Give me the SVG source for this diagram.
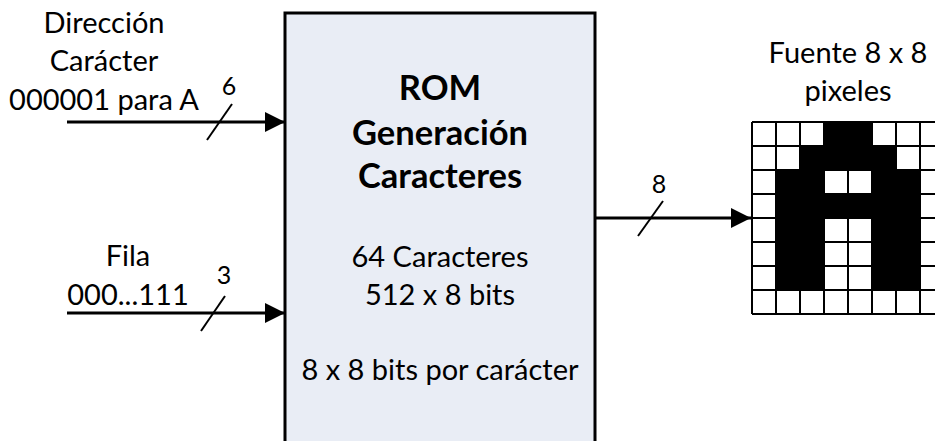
<svg xmlns="http://www.w3.org/2000/svg" width="935" height="441" viewBox="0 0 935 441">
  <defs>
    <marker id="arrow" markerUnits="userSpaceOnUse" markerWidth="20" markerHeight="20" refX="20" refY="10" orient="auto">
      <path d="M0,0 L20,10 L0,20 Z" fill="#000"/>
    </marker>
    <style>
      .t { font-family: Lato, "Liberation Sans", sans-serif; font-size: 29px; fill: #000; text-anchor: middle; }
      .b { font-weight: bold; font-size: 34.5px; }
      .s { font-family: Lato, "Liberation Sans", sans-serif; font-size: 25px; fill: #000; text-anchor: middle; }
      .bus { stroke: #000; stroke-width: 3; fill: none; }
      .slash { stroke: #000; stroke-width: 2; fill: none; }
    </style>
  </defs>
  <rect width="935" height="441" fill="#fff"/>

  <g id="rom">
    <rect x="285" y="13" width="310" height="440" fill="#E9EDF5" stroke="#000" stroke-width="3"/>
    <text class="t b" x="440" y="100">ROM</text>
    <text class="t b" x="440" y="145">Generación</text>
    <text class="t b" x="440" y="188">Caracteres</text>
    <text class="t" x="440" y="267">64 Caracteres</text>
    <text class="t" x="440" y="305">512 x 8 bits</text>
    <text class="t" x="440" y="380">8 x 8 bits por carácter</text>
  </g>

  <g id="input-direccion">
    <text class="t" x="104" y="33">Dirección</text>
    <text class="t" x="104" y="71">Carácter</text>
    <text class="t" x="104" y="110">000001 para A</text>
  </g>

  <g id="input-fila">
    <text class="t" x="128" y="266">Fila</text>
    <text class="t" x="128" y="305">000...111</text>
  </g>

  <g id="font-grid">
    <text class="t" x="848" y="63">Fuente 8 x 8</text>
    <text class="t" x="848" y="101">pixeles</text>
    <rect x="752" y="122" width="192" height="192" fill="#fff"/>
    <path fill="#000" d="M824,122h48v24h-48z M800,146h96v24h-96z M776,170h48v24h-48z M872,170h48v24h-48z M776,194h144v24h-144z M776,218h48v72h-48z M872,218h48v72h-48z"/>
    <path stroke="#000" stroke-width="2" fill="none" d="M752,122V314 M776,122V314 M800,122V314 M824,122V314 M848,122V314 M872,122V314 M896,122V314 M920,122V314 M944,122V314 M752,122H944 M752,146H944 M752,170H944 M752,194H944 M752,218H944 M752,242H944 M752,266H944 M752,290H944 M752,314H944"/>
  </g>

  <g id="connectors">
    <line class="bus" x1="67" y1="122" x2="285" y2="122" marker-end="url(#arrow)"/>
    <line class="slash" x1="207" y1="140" x2="232" y2="104"/>
    <text class="s" x="229" y="95">6</text>

    <line class="bus" x1="67" y1="313" x2="285" y2="313" marker-end="url(#arrow)"/>
    <line class="slash" x1="201" y1="331" x2="225" y2="296"/>
    <text class="s" x="224" y="284">3</text>

    <line class="bus" x1="595" y1="218" x2="751" y2="218" marker-end="url(#arrow)"/>
    <line class="slash" x1="638" y1="236" x2="663" y2="201"/>
    <text class="s" x="659" y="193">8</text>
  </g>
</svg>
